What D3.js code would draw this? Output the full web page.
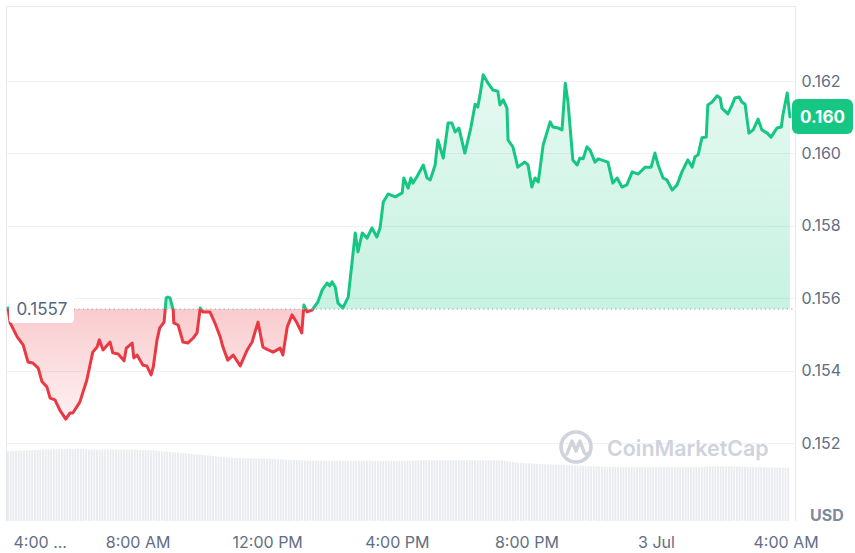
<!DOCTYPE html>
<html>
<head>
<meta charset="utf-8">
<script src="https://cdnjs.cloudflare.com/ajax/libs/d3/7.8.5/d3.min.js"></script>
<style>
  html, body { margin: 0; padding: 0; background: #fff; }
  svg { display: block; font-family: Inter, "Noto Sans", sans-serif; }
</style>
</head>
<body>
<div id="chart"></div>
<script>
"use strict";

// minutes after 4:00 AM (2 Jul), price in USD
var minutes = [
  0, 4, 17, 28, 37, 46, 56, 63, 72, 78,
  87, 96, 107, 115, 120, 133, 146, 157, 165, 169,
  176, 189, 194, 204, 215, 219, 230, 233, 239, 250,
  257, 265, 269, 276, 281, 289, 293, 296, 300, 306,
  307, 315, 324, 333, 343, 350, 356, 361, 374, 383,
  393, 398, 407, 417, 430, 443, 452, 463, 472, 482,
  491, 504, 509, 517, 526, 535, 544, 548, 554, 563,
  574, 582, 591, 596, 600, 606, 611, 620, 630, 637,
  643, 648, 656, 665, 674, 683, 689, 695, 704, 717,
  730, 733, 741, 746, 750, 757, 769, 776, 782, 791,
  796, 806, 815, 822, 828, 835, 846, 857, 865, 870,
  874, 880, 889, 898, 907, 911, 917, 924, 926, 935,
  944, 957, 963, 970, 976, 982, 991, 1004, 1009, 1019,
  1026, 1032, 1037, 1046, 1054, 1059, 1065, 1072, 1078, 1087,
  1093, 1111, 1120, 1128, 1137, 1146, 1156, 1167, 1180, 1191,
  1198, 1204, 1213, 1220, 1230, 1239, 1248, 1259, 1267, 1272,
  1278, 1285, 1293, 1296, 1304, 1313, 1319, 1322, 1333, 1341,
  1346, 1354, 1359, 1365, 1372, 1380, 1389, 1396, 1406, 1413,
  1424, 1432, 1435, 1443, 1448
];

var prices = [
  0.15573, 0.15532, 0.15493, 0.15471, 0.15424, 0.15421, 0.15407, 0.15369, 0.15355, 0.15324,
  0.15319, 0.15291, 0.15266, 0.15283, 0.15283, 0.15313, 0.15374, 0.15451, 0.15465, 0.15485,
  0.15457, 0.15479, 0.15449, 0.15446, 0.15427, 0.15462, 0.15476, 0.15435, 0.15443, 0.15415,
  0.15413, 0.15388, 0.15410, 0.15485, 0.15518, 0.15534, 0.15601, 0.15603, 0.15601, 0.15567,
  0.15532, 0.15526, 0.15479, 0.15476, 0.15490, 0.15504, 0.15573, 0.15562, 0.15562, 0.15532,
  0.15493, 0.15465, 0.15429, 0.15443, 0.15413, 0.15457, 0.15479, 0.15534, 0.15465, 0.15457,
  0.15451, 0.15462, 0.15443, 0.15520, 0.15554, 0.15532, 0.15504, 0.15581, 0.15562, 0.15567,
  0.15590, 0.15623, 0.15642, 0.15634, 0.15645, 0.15631, 0.15587, 0.15573, 0.15603, 0.15697,
  0.15780, 0.15728, 0.15780, 0.15766, 0.15794, 0.15769, 0.15794, 0.15866, 0.15888, 0.15880,
  0.15891, 0.15932, 0.15904, 0.15932, 0.15918, 0.15935, 0.15968, 0.15932, 0.15927, 0.15968,
  0.16037, 0.15987, 0.16084, 0.16084, 0.16059, 0.16070, 0.16001, 0.16070, 0.16136, 0.16128,
  0.16161, 0.16217, 0.16194, 0.16175, 0.16172, 0.16134, 0.16148, 0.16125, 0.16037, 0.16018,
  0.15962, 0.15976, 0.15968, 0.15907, 0.15932, 0.15921, 0.16023, 0.16087, 0.16073, 0.16070,
  0.16065, 0.16194, 0.16142, 0.15982, 0.15968, 0.15987, 0.15985, 0.16018, 0.16009, 0.15976,
  0.15985, 0.15976, 0.15918, 0.15932, 0.15907, 0.15913, 0.15949, 0.15943, 0.15962, 0.15962,
  0.16001, 0.15968, 0.15932, 0.15927, 0.15899, 0.15913, 0.15949, 0.15982, 0.15962, 0.15990,
  0.15996, 0.16043, 0.16045, 0.16134, 0.16142, 0.16159, 0.16153, 0.16125, 0.16109, 0.16134,
  0.16153, 0.16156, 0.16142, 0.16136, 0.16056, 0.16065, 0.16095, 0.16065, 0.16056, 0.16045,
  0.16070, 0.16073, 0.16106, 0.16167, 0.16101
];

// hourly volume (relative units), minutes after 4:00 AM
var volumeMinutes = [0, 60, 120, 180, 240, 300, 360, 420, 480, 540, 600, 660, 720, 780, 840, 900, 960, 1020, 1080, 1140, 1200, 1260, 1320, 1380, 1448];
var volumes = [93, 95, 96, 95, 95, 92, 88, 84, 83, 81, 80, 80, 80, 81, 81, 81, 77, 75, 73, 72, 72, 72, 73, 72, 71];

var yTicks = [0.152, 0.154, 0.156, 0.158, 0.160, 0.162];
var xTickHours = [0, 4, 8, 12, 16, 20, 24];
var xTickLabels = ["4:00 ...", "8:00 AM", "12:00 PM", "4:00 PM", "8:00 PM", "3 Jul", "4:00 AM"];

var openPrice = 0.1557;
var openLabel = "0.1557";
var lastLabel = "0.160";
var currency = "USD";

var GREEN = "#16c784";
var RED = "#ea3943";

(function() {
  var width = 855,
      height = 553;

  var frame = { left: 6, right: 795, top: 6, bottom: 521 };

  var start = new Date(2024, 6, 2, 4, 0);
  var toDate = function(m) { return new Date(start.getTime() + m * 60000); };

  var data = minutes.map(function(m, i) {
    return { t: toDate(m), p: prices[i] };
  });

  var x = d3.scaleTime()
    .domain([start, toDate(1440)])
    .range([8, 785.6]);

  var y = d3.scaleLinear()
    .domain([0.152, 0.162])
    .range([443, 81]);

  var yVol = d3.scaleLinear()
    .domain([0, 100])
    .range([frame.bottom, 446]);

  var baseY = y(openPrice);

  var svg = d3.select("#chart").append("svg")
    .attr("width", width)
    .attr("height", height);

  var defs = svg.append("defs");

  // area gradients
  var gGreen = defs.append("linearGradient")
    .attr("id", "grad-green")
    .attr("gradientUnits", "userSpaceOnUse")
    .attr("x1", 0).attr("x2", 0)
    .attr("y1", y(0.1622)).attr("y2", baseY);
  gGreen.append("stop").attr("offset", 0).attr("stop-color", GREEN).attr("stop-opacity", 0.11);
  gGreen.append("stop").attr("offset", 1).attr("stop-color", GREEN).attr("stop-opacity", 0.24);

  var gRed = defs.append("linearGradient")
    .attr("id", "grad-red")
    .attr("gradientUnits", "userSpaceOnUse")
    .attr("x1", 0).attr("x2", 0)
    .attr("y1", baseY).attr("y2", y(0.1526));
  gRed.append("stop").attr("offset", 0).attr("stop-color", RED).attr("stop-opacity", 0.26);
  gRed.append("stop").attr("offset", 1).attr("stop-color", RED).attr("stop-opacity", 0.07);

  // thin vertical stripes for the volume bars (one per 5 minutes)
  var stripeW = x(toDate(5)) - x(toDate(0));
  var pattern = defs.append("pattern")
    .attr("id", "vol-stripes")
    .attr("patternUnits", "userSpaceOnUse")
    .attr("x", 7)
    .attr("width", stripeW)
    .attr("height", 10);
  pattern.append("rect")
    .attr("width", stripeW - 0.8)
    .attr("height", 10)
    .attr("fill", "#e9ebef");

  defs.append("clipPath").attr("id", "clip-above")
    .append("rect")
    .attr("x", 0).attr("y", 0)
    .attr("width", width).attr("height", baseY);

  defs.append("clipPath").attr("id", "clip-below")
    .append("rect")
    .attr("x", 0).attr("y", baseY)
    .attr("width", width).attr("height", height - baseY);

  // gridlines
  svg.append("g")
    .selectAll("line")
    .data(yTicks)
  .enter().append("line")
    .attr("x1", frame.left)
    .attr("x2", frame.right)
    .attr("y1", function(d) { return Math.round(y(d)) + 0.5; })
    .attr("y2", function(d) { return Math.round(y(d)) + 0.5; })
    .attr("stroke", "#eff2f5")
    .attr("stroke-width", 1);

  // volume
  var volData = volumeMinutes.map(function(m, i) {
    return { t: toDate(m), v: volumes[i] };
  });

  svg.append("path")
    .datum(volData)
    .attr("fill", "url(#vol-stripes)")
    .attr("d", d3.area()
      .curve(d3.curveMonotoneX)
      .x(function(d, i) { return i === 0 ? 7 : x(d.t); })
      .y0(frame.bottom)
      .y1(function(d) { return yVol(d.v); }));

  // frame
  svg.append("path")
    .attr("d", "M" + (frame.left + 0.5) + "," + frame.bottom +
               "V" + (frame.top + 0.5) +
               "H" + (frame.right + 0.5) +
               "V" + frame.bottom)
    .attr("fill", "none")
    .attr("stroke", "#e6e8ec")
    .attr("stroke-width", 1);

  // watermark
  var wm = svg.append("g")
    .attr("transform", "translate(576,447)");
  wm.append("circle")
    .attr("r", 15)
    .attr("fill", "none")
    .attr("stroke", "#cfd3dc")
    .attr("stroke-width", 3.6);
  wm.append("path")
    .attr("d", "M-9,7 L-4,-6 L0,4 L4,-6 L8,5 Q10,9 13,6")
    .attr("fill", "none")
    .attr("stroke", "#cfd3dc")
    .attr("stroke-width", 3.4)
    .attr("stroke-linejoin", "round")
    .attr("stroke-linecap", "round");
  svg.append("text")
    .attr("x", 607)
    .attr("y", 456)
    .attr("font-size", 21.4)
    .attr("font-weight", 600)
    .attr("fill", "#cfd3dc")
    .text("CoinMarketCap");

  // area + line, split at the opening price
  var area = d3.area()
    .x(function(d) { return x(d.t); })
    .y0(baseY)
    .y1(function(d) { return y(d.p); });

  var line = d3.line()
    .x(function(d) { return x(d.t); })
    .y(function(d) { return y(d.p); });

  [["above", "url(#grad-green)", GREEN], ["below", "url(#grad-red)", RED]].forEach(function(s) {
    var g = svg.append("g").attr("clip-path", "url(#clip-" + s[0] + ")");
    g.append("path")
      .datum(data)
      .attr("fill", s[1])
      .attr("d", area);
    g.append("path")
      .datum(data)
      .attr("fill", "none")
      .attr("stroke", s[2])
      .attr("stroke-width", 3)
      .attr("stroke-linejoin", "round")
      .attr("stroke-linecap", "round")
      .attr("d", line);
  });

  // opening price reference
  svg.append("line")
    .attr("x1", 74)
    .attr("x2", frame.right)
    .attr("y1", baseY)
    .attr("y2", baseY)
    .attr("stroke", "#a6b0c3")
    .attr("stroke-width", 1.2)
    .attr("stroke-dasharray", "1.2,3.2");

  svg.append("rect")
    .attr("x", 9)
    .attr("y", baseY - 14)
    .attr("width", 65)
    .attr("height", 28)
    .attr("rx", 4)
    .attr("fill", "#fff");

  svg.append("text")
    .attr("x", 16.5)
    .attr("y", baseY + 6)
    .attr("font-size", 17)
    .attr("fill", "#58667e")
    .text(openLabel);

  // y axis labels
  svg.append("g")
    .selectAll("text")
    .data(yTicks)
  .enter().append("text")
    .attr("x", 801.5)
    .attr("y", function(d) { return y(d) + 5.5; })
    .attr("font-size", 16)
    .attr("fill", "#616e85")
    .text(function(d) { return d3.format(".3f")(d); });

  // last price badge
  svg.append("rect")
    .attr("x", 792)
    .attr("y", 99)
    .attr("width", 61)
    .attr("height", 35)
    .attr("rx", 6)
    .attr("fill", GREEN);

  svg.append("text")
    .attr("x", 822.5)
    .attr("y", 122.5)
    .attr("text-anchor", "middle")
    .attr("font-size", 17)
    .attr("font-weight", 700)
    .attr("fill", "#fff")
    .text(lastLabel);

  svg.append("text")
    .attr("x", 810)
    .attr("y", 521)
    .attr("font-size", 16)
    .attr("font-weight", 700)
    .attr("fill", "#808a9d")
    .text(currency);

  // x axis
  var xAxis = d3.axisBottom(x)
    .tickValues(xTickHours.map(function(h) { return toDate(h * 60); }))
    .tickFormat(function(d, i) { return xTickLabels[i]; })
    .tickSize(0)
    .tickPadding(0);

  var gx = svg.append("g")
    .attr("transform", "translate(0,537)")
    .call(xAxis);

  gx.select(".domain").remove();
  gx.selectAll("text")
    .attr("font-family", "Inter, 'Noto Sans', sans-serif")
    .attr("font-size", 16)
    .attr("fill", "#616e85")
    .attr("dy", "0.71em");

  gx.selectAll(".tick")
    .filter(function(d, i) { return i === 0; })
    .select("text")
    .attr("text-anchor", "start")
    .attr("x", 5);
})();
</script>
</body>
</html>
